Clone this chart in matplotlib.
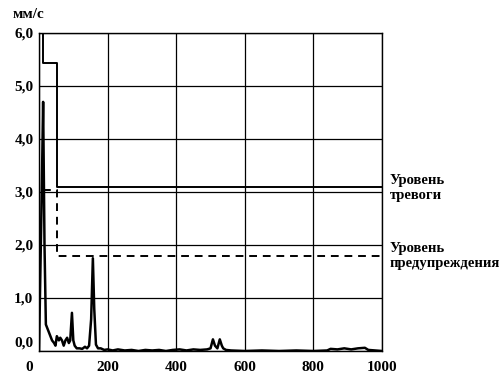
import matplotlib
matplotlib.use("Agg")
import matplotlib.pyplot as plt
import matplotlib.transforms as mtransforms

# vibration signal, mm/s vs time
sig_x = [0, 8, 12, 16, 20, 26, 32, 38, 44, 48, 52, 58, 62, 67, 72, 77, 82, 87, 91, 96,
         100, 104, 110, 118, 126, 134, 140, 146, 152, 157, 161, 166, 172, 180, 190,
         200, 215, 230, 250, 270, 290, 310, 330, 350, 370, 390, 410, 430, 450, 470,
         490, 500, 507, 513, 520, 527, 533, 537, 545, 560, 600, 650, 700, 750, 800,
         840, 850, 870, 890, 910, 930, 950, 960, 980, 1000]
sig_y = [0.0, 3.0, 4.7, 2.0, 0.5, 0.4, 0.3, 0.2, 0.15, 0.1, 0.28, 0.2, 0.25, 0.2, 0.1,
         0.2, 0.25, 0.15, 0.2, 0.72, 0.2, 0.1, 0.05, 0.05, 0.04, 0.08, 0.05, 0.1,
         0.6, 1.75, 0.8, 0.12, 0.05, 0.05, 0.02, 0.03, 0.01, 0.03, 0.01, 0.02, 0.0,
         0.02, 0.01, 0.02, 0.0, 0.02, 0.03, 0.01, 0.03, 0.02, 0.03, 0.05, 0.22, 0.1,
         0.05, 0.22, 0.1, 0.05, 0.02, 0.01, 0.0, 0.01, 0.0, 0.01, 0.0, 0.01, 0.04,
         0.03, 0.05, 0.03, 0.05, 0.06, 0.02, 0.01, 0.0]

# alarm level (solid) and warning level (dashed)
alarm_x = [12, 12, 53, 53, 1000]
alarm_y = [6.0, 5.43, 5.43, 3.1, 3.1]
warn_x = [12, 53, 53, 1000]
warn_y = [3.03, 3.03, 1.8, 1.8]

xticks = [0, 200, 400, 600, 800, 1000]
yticks = [0, 1, 2, 3, 4, 5, 6]
ylabels = ["0,0", "1,0", "2,0", "3,0", "4,0", "5,0", "6,0"]

plt.rcParams["font.family"] = ["Liberation Serif", "DejaVu Serif"]
plt.rcParams["font.weight"] = "bold"

fig = plt.figure(figsize=(5.04, 3.77), dpi=100)
ax = fig.add_axes([0.0774, 0.069, 0.6806, 0.8435])

ax.plot(sig_x, sig_y, color="black", lw=1.8, zorder=3)
ax.plot(alarm_x, alarm_y, color="black", lw=1.4, zorder=3)
ax.plot(warn_x, warn_y, color="black", lw=1.4, ls=(0, (4, 3)), zorder=3)

ax.set_xlim(0, 1000)
ax.set_ylim(0, 6)
ax.set_xticks(xticks)
ax.set_yticks(yticks)
ax.set_yticklabels(ylabels)
ax.grid(True, color="black", lw=0.9)
ax.tick_params(length=0, labelsize=11)
ax.tick_params(axis="x", pad=7)
ax.tick_params(axis="y", pad=4)
for s in ax.spines.values():
    s.set_linewidth(1.0)

# shift the zero labels off the corner
lbl = ax.get_yticklabels()[0]
lbl.set_transform(lbl.get_transform() + mtransforms.ScaledTranslation(0, 9 / 100, fig.dpi_scale_trans))
lbl = ax.get_xticklabels()[0]
lbl.set_transform(lbl.get_transform() + mtransforms.ScaledTranslation(-10 / 100, 0, fig.dpi_scale_trans))

fig.text(13 / 504, 1 - 15 / 377, "мм/с", fontsize=11, va="center", ha="left")
fig.text(390 / 504, 1 - 188 / 377, "Уровень\nтревоги", fontsize=10.5, va="center",
         ha="left", linespacing=1.15)
fig.text(390 / 504, 1 - 256 / 377, "Уровень\nпредупреждения", fontsize=10.5,
         va="center", ha="left", linespacing=1.15)

fig.savefig("out.png", dpi=100)
